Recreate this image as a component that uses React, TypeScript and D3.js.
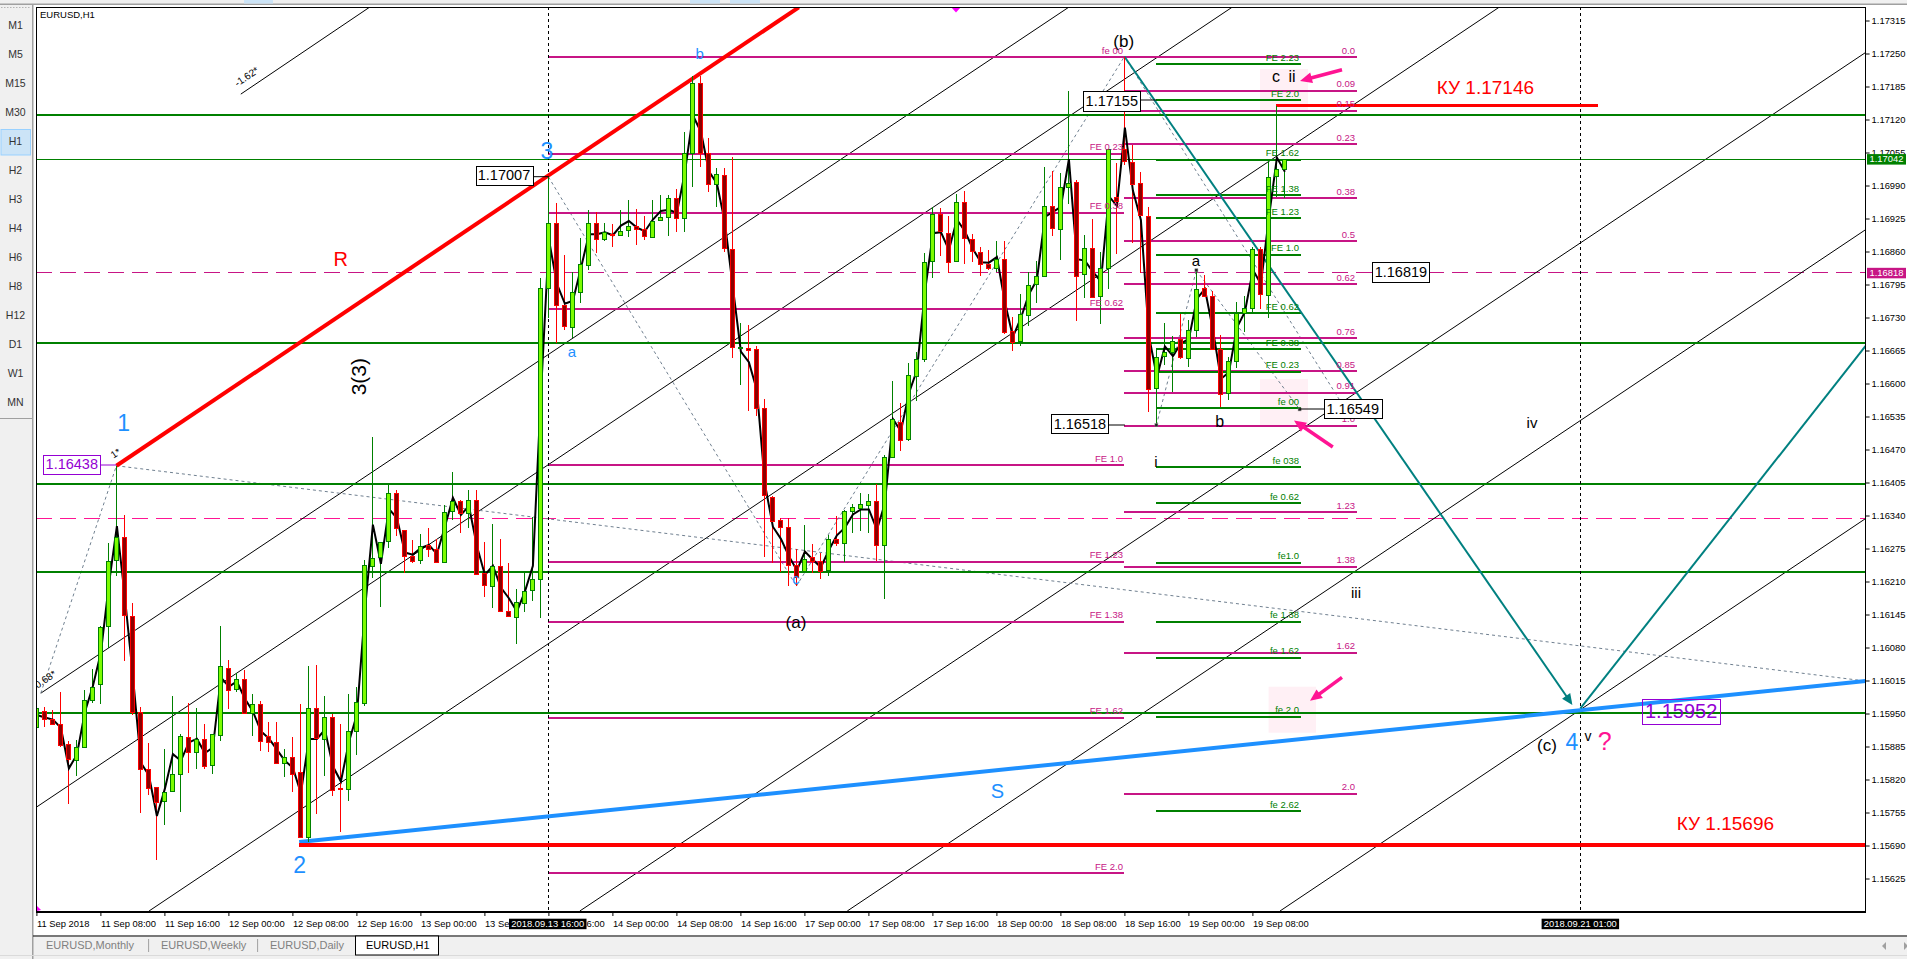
import React, { useEffect, useRef } from 'react';
import * as d3 from 'd3';

const WIDTH = 1907;
const HEIGHT = 959;

const opens = [
  1.15923,1.15955,1.15940,1.15930,1.15889,1.15859,1.15885,1.15977,1.16007,1.16122,
  1.16252,1.16297,1.16143,1.15953,1.15841,1.15805,1.15777,1.15797,1.15831,1.15904,
  1.15874,1.15900,1.15848,1.15908,1.16040,1.15997,1.16017,1.15951,1.15969,1.15905,
  1.15894,1.15852,1.15864,1.15835,1.15706,1.15961,1.15900,1.15944,1.15804,1.15802,
  1.15916,1.15971,1.16241,1.16257,1.16289,1.16384,1.16312,1.16261,1.16253,1.16281,
  1.16275,1.16249,1.16348,1.16369,1.16346,1.16371,1.16226,1.16202,1.16240,1.16152,
  1.16139,1.16169,1.16192,1.16214,1.16788,1.16916,1.16754,1.16712,1.16780,1.16835,
  1.16917,1.16885,1.16895,1.16892,1.16902,1.16910,1.16904,1.16890,1.16922,1.16928,
  1.16965,1.16926,1.17054,1.17192,1.17055,1.16993,1.17011,1.16865,1.16669,1.16669,
  1.16668,1.16551,1.16376,1.16331,1.16317,1.16243,1.16231,1.16258,1.16250,1.16231,
  1.16293,1.16285,1.16348,1.16356,1.16362,1.16369,1.16283,1.16456,1.16525,1.16490,
  1.16616,1.16649,1.16840,1.16933,1.16897,1.16840,1.16957,1.16884,1.16860,1.16836,
  1.16828,1.16846,1.16703,1.16682,1.16736,1.16795,1.16811,1.16949,1.16905,1.16988,
  1.16996,1.16815,1.16866,1.16771,1.16827,1.16968,1.17061,1.17037,1.16994,1.16930,
  1.16592,1.16655,1.16662,1.16687,1.16651,1.16706,1.16788,1.16773,1.16668,1.16582,
  1.16645,1.16739,1.16748,1.16864,1.16775,1.17009,1.17022,
];
const closes = [
  1.15960,1.15940,1.15930,1.15889,1.15859,1.15884,1.15977,1.16002,1.16120,1.16251,
  1.16297,1.16143,1.15954,1.15841,1.15804,1.15776,1.15795,1.15831,1.15905,1.15874,
  1.15900,1.15847,1.15910,1.16044,1.15997,1.16017,1.15951,1.15969,1.15896,1.15894,
  1.15852,1.15864,1.15831,1.15706,1.15961,1.15902,1.15944,1.15800,1.15802,1.15916,
  1.15973,1.16242,1.16257,1.16287,1.16384,1.16316,1.16261,1.16251,1.16280,1.16273,
  1.16250,1.16347,1.16368,1.16346,1.16371,1.16226,1.16202,1.16241,1.16151,1.16143,
  1.16169,1.16192,1.16214,1.16788,1.16916,1.16754,1.16712,1.16780,1.16835,1.16917,
  1.16885,1.16898,1.16893,1.16900,1.16910,1.16904,1.16890,1.16921,1.16928,1.16965,
  1.16926,1.17054,1.17192,1.17055,1.16993,1.17012,1.16867,1.16671,1.16671,1.16666,
  1.16551,1.16379,1.16328,1.16317,1.16243,1.16220,1.16254,1.16250,1.16231,1.16293,
  1.16285,1.16348,1.16356,1.16363,1.16369,1.16283,1.16456,1.16530,1.16490,1.16616,
  1.16649,1.16840,1.16933,1.16899,1.16840,1.16957,1.16886,1.16861,1.16836,1.16828,
  1.16846,1.16702,1.16682,1.16736,1.16795,1.16811,1.16949,1.16905,1.16987,1.16995,
  1.16810,1.16866,1.16769,1.16827,1.17061,1.16961,1.17038,1.16994,1.16930,1.16590,
  1.16653,1.16662,1.16684,1.16651,1.16706,1.16787,1.16772,1.16669,1.16580,1.16645,
  1.16739,1.16748,1.16864,1.16775,1.17007,1.17022,1.17042,
];
const highs = [
  1.15960,1.15963,1.15956,1.15992,1.15895,1.15898,1.15996,1.16038,1.16122,1.16285,
  1.16438,1.16341,1.16168,1.15963,1.15891,1.15806,1.15881,1.15984,1.15909,1.15971,
  1.15960,1.15930,1.15910,1.16122,1.16055,1.16029,1.16035,1.15988,1.15974,1.15934,
  1.15934,1.15881,1.15904,1.15969,1.16043,1.16045,1.15984,1.15950,1.15929,1.15988,
  1.16002,1.16252,1.16494,1.16288,1.16400,1.16390,1.16312,1.16291,1.16303,1.16316,
  1.16294,1.16360,1.16425,1.16370,1.16390,1.16390,1.16288,1.16323,1.16293,1.16246,
  1.16196,1.16229,1.16338,1.16808,1.17007,1.16955,1.16854,1.16819,1.16887,1.16942,
  1.16938,1.16916,1.16915,1.16942,1.16962,1.16944,1.16929,1.16962,1.16972,1.16972,
  1.16983,1.17096,1.17206,1.17206,1.17083,1.17024,1.17024,1.17046,1.16720,1.16715,
  1.16673,1.16569,1.16379,1.16335,1.16335,1.16275,1.16321,1.16284,1.16267,1.16302,
  1.16339,1.16351,1.16363,1.16384,1.16382,1.16402,1.16460,1.16605,1.16561,1.16641,
  1.16662,1.16858,1.16947,1.16945,1.16930,1.16973,1.16979,1.16895,1.16868,1.16863,
  1.16880,1.16880,1.16731,1.16777,1.16820,1.16842,1.17026,1.17018,1.17014,1.17177,
  1.17001,1.16892,1.16924,1.16860,1.17061,1.17034,1.17244,1.17070,1.17017,1.16948,
  1.16669,1.16720,1.16693,1.16737,1.16725,1.16823,1.16814,1.16783,1.16695,1.16653,
  1.16761,1.16772,1.16868,1.16868,1.17043,1.17146,1.17043,
];
const lows = [
  1.15920,1.15923,1.15927,1.15884,1.15772,1.15826,1.15885,1.15971,1.15969,1.16079,
  1.16221,1.16053,1.15948,1.15754,1.15789,1.15661,1.15730,1.15795,1.15756,1.15833,
  1.15841,1.15840,1.15830,1.15896,1.15958,1.15992,1.15950,1.15906,1.15876,1.15874,
  1.15851,1.15825,1.15795,1.15704,1.15696,1.15752,1.15826,1.15787,1.15716,1.15777,
  1.15869,1.15964,1.16216,1.16160,1.16276,1.16299,1.16227,1.16247,1.16244,1.16258,
  1.16248,1.16247,1.16332,1.16306,1.16316,1.16223,1.16180,1.16158,1.16150,1.16142,
  1.16087,1.16149,1.16172,1.16139,1.16729,1.16680,1.16706,1.16689,1.16758,1.16824,
  1.16858,1.16880,1.16868,1.16890,1.16888,1.16873,1.16882,1.16886,1.16921,1.16890,
  1.16899,1.16899,1.16987,1.17027,1.16978,1.16947,1.16859,1.16650,1.16597,1.16545,
  1.16536,1.16259,1.16247,1.16229,1.16201,1.16201,1.16231,1.16226,1.16215,1.16221,
  1.16280,1.16249,1.16306,1.16310,1.16306,1.16250,1.16175,1.16455,1.16468,1.16486,
  1.16566,1.16643,1.16808,1.16851,1.16818,1.16840,1.16835,1.16840,1.16812,1.16823,
  1.16820,1.16698,1.16664,1.16673,1.16713,1.16759,1.16810,1.16890,1.16843,1.16953,
  1.16724,1.16769,1.16768,1.16717,1.16786,1.16855,1.17030,1.16876,1.16818,1.16544,
  1.16518,1.16636,1.16584,1.16649,1.16633,1.16692,1.16771,1.16667,1.16553,1.16568,
  1.16630,1.16702,1.16741,1.16746,1.16730,1.16968,1.16965,
];
// thin black line over the candles
const lineValues = [
  1.15947,1.15942,1.15938,1.15922,1.15842,1.15869,1.15953,1.16004,1.16070,1.16205,
  1.16319,1.16179,1.16023,1.15853,1.15828,1.15748,1.15802,1.15870,1.15857,1.15893,
  1.15900,1.15872,1.15883,1.16021,1.16003,1.16013,1.15979,1.15954,1.15915,1.15901,
  1.15879,1.15857,1.15843,1.15793,1.15900,1.15900,1.15918,1.15846,1.15816,1.15894,
  1.15948,1.16153,1.16322,1.16245,1.16353,1.16335,1.16267,1.16263,1.16276,1.16282,
  1.16264,1.16318,1.16375,1.16341,1.16359,1.16280,1.16223,1.16241,1.16198,1.16177,
  1.16151,1.16190,1.16241,1.16578,1.16884,1.16796,1.16757,1.16763,1.16827,1.16894,
  1.16894,1.16898,1.16892,1.16911,1.16920,1.16907,1.16900,1.16923,1.16940,1.16942,
  1.16936,1.17016,1.17128,1.17096,1.17018,1.16994,1.16917,1.16789,1.16663,1.16642,
  1.16587,1.16402,1.16318,1.16294,1.16260,1.16232,1.16269,1.16253,1.16238,1.16272,
  1.16301,1.16316,1.16342,1.16352,1.16352,1.16312,1.16364,1.16530,1.16506,1.16581,
  1.16626,1.16780,1.16896,1.16898,1.16863,1.16923,1.16900,1.16865,1.16839,1.16838,
  1.16849,1.16760,1.16692,1.16729,1.16776,1.16804,1.16928,1.16938,1.16948,1.17042,
  1.16845,1.16842,1.16820,1.16801,1.16969,1.16950,1.17104,1.16980,1.16922,1.16694,
  1.16613,1.16673,1.16654,1.16679,1.16688,1.16767,1.16786,1.16706,1.16609,1.16622,
  1.16710,1.16741,1.16824,1.16796,1.16927,1.17045,1.17017,
];

const priceTicks = [
  1.17315,1.1725,1.17185,1.1712,1.17055,1.1699,1.16925,1.1686,1.16795,1.1673,1.16665,1.166,1.16535,1.1647,
  1.16405,1.1634,1.16275,1.1621,1.16145,1.1608,1.16015,1.1595,1.15885,1.1582,1.15755,1.1569,1.15625,
];
const timeBars = [0,8,16,24,32,40,48,56,64,72,80,88,96,104,112,120,128,136,144,152];
const timeLabels = [
  '11 Sep 2018','11 Sep 08:00','11 Sep 16:00','12 Sep 00:00','12 Sep 08:00','12 Sep 16:00','13 Sep 00:00',
  '13 Sep 08:00','13 Sep 16:00','14 Sep 00:00','14 Sep 08:00','14 Sep 16:00','17 Sep 00:00','17 Sep 08:00',
  '17 Sep 16:00','18 Sep 00:00','18 Sep 08:00','18 Sep 16:00','19 Sep 00:00','19 Sep 08:00',
];

const thickLevels = [1.17129, 1.1668, 1.16403, 1.16229, 1.15951];
const bidLevel = 1.17042;
const dashLevelA = 1.16818;
const dashLevelB = 1.16334;

// fibo levels: wave (a)-(c) expansion, retracement, small expansion
const feLabels = ['fe 00','FE 0.23','FE 0.38','FE 0.62','FE 1.0','FE 1.23','FE 1.38','FE 1.62','FE 2.0'];
const feLevels = [1.17244,1.17054,1.16937,1.16747,1.1644,1.1625,1.16132,1.15943,1.15636];
const retLabels = ['0.0','0.09','0.15','0.23','0.38','0.5','0.62','0.76','0.85','0.91','1.0','1.23','1.38','1.62','2.0'];
const retLevels = [1.17244,1.17178,1.17138,1.17072,1.16966,1.16881,1.16796,1.1669,1.16625,1.16583,1.16518,1.16347,1.1624,1.16071,1.15793];
const smallLabels = ['FE 2.23','FE 2.0','FE 1.62','FE 1.38','FE 1.23','FE 1.0','FE 0.62','FE 0.38','FE 0.23','fe 00','fe 038','fe 0.62','fe1.0','fe 1.38','fe 1.62','fe 2.0','fe 2.62'];
const smallLevels = [1.1723,1.17159,1.17042,1.16972,1.16926,1.16855,1.16739,1.16668,1.16624,1.16552,1.16436,1.16365,1.16248,1.16132,1.16061,1.15945,1.15758];

// [bar, price, bar, price]
const channelLines = [
  [25.55,1.1717,41.63,1.17341],
  [0.55,1.1599,129.03,1.17341],
  [0.04,1.15766,149.45,1.17341],
  [14.08,1.15561,182.83,1.17341],
  [67.93,1.15561,228.65,1.17252],
  [101.36,1.15561,228.65,1.16903],
  [155.45,1.15561,228.65,1.16334],
];
const dottedLines = [
  [0.55,1.1599,10,1.16438],
  [10,1.16438,228.65,1.16014],
  [64,1.17007,95,1.16201],
  [95,1.16201,136,1.17244],
  [136,1.17244,163.6,1.1655],
  [145,1.16823,157.9,1.16549],
  [140,1.16518,145,1.16823],
];
const pinkArrows = [
  [163.2,1.17218,157.95,1.17196],
  [162.05,1.16475,157.2,1.16527],
  [163.2,1.16021,159.2,1.15975],
];

const BLUE = '#1e90ff';
const MAGENTA = '#c71585';
const GREEN = '#008000';
const TEAL = '#008080';
const VIOLET = '#9400d3';
const PINK = '#ff1493';
const FONT = '"Liberation Sans", Arial, sans-serif';

const App: React.FC = () => {
  const svgRef = useRef<SVGSVGElement>(null);

  useEffect(() => {
    if (!svgRef.current) return;
    const svg = d3.select(svgRef.current);
    svg.selectAll('*').remove();

    const left = 36.4;
    const right = 1865.6;
    const top = 7.3;
    const bottom = 911;
    const x = d3.scaleLinear().domain([0, 228.65]).range([left, right]);
    const y = d3.scaleLinear().domain([1.15561, 1.17341]).range([bottom, top]);

    const px = (v: number) => Math.floor(x(v)) + 0.5;
    const py = (v: number) => Math.floor(y(v)) + 0.5;

    // window chrome
    svg.append('rect').attr('width', WIDTH).attr('height', HEIGHT).attr('fill', '#f0f0f0');
    svg.append('rect').attr('x', 33).attr('y', 4).attr('width', WIDTH - 33).attr('height', 931).attr('fill', '#fff');
    svg.append('rect').attr('x', 32).attr('y', 4).attr('width', 1.5).attr('height', HEIGHT).attr('fill', '#a0a0a0');
    svg.append('rect').attr('y', 3.5).attr('width', WIDTH).attr('height', 1.5).attr('fill', '#a0a0a0');
    [[244, 29], [690, 30], [730, 30]].forEach(([bx, bw]) => {
      svg.append('rect').attr('x', bx).attr('y', 0).attr('width', bw).attr('height', 3.5).attr('fill', '#cce4f7');
    });
    svg.append('line').attr('x1', 1).attr('x2', 30).attr('y1', 7.5).attr('y2', 7.5)
      .attr('stroke', '#b5b5b5').attr('stroke-dasharray', '1.5,1.5');

    const periods = ['M1','M5','M15','M30','H1','H2','H3','H4','H6','H8','H12','D1','W1','MN'];
    svg.append('rect').attr('x', 1).attr('y', 129.5).attr('width', 29.5).attr('height', 25.5)
      .attr('fill', '#cce4f7').attr('stroke', '#99d1ff');
    periods.forEach((p, i) => {
      svg.append('text').attr('x', 15.5).attr('y', 26 + i * 29 + (i > 3 ? 0.5 : 0)).attr('text-anchor', 'middle')
        .attr('dominant-baseline', 'middle').attr('font-family', FONT).attr('font-size', 10.5).attr('fill', '#333').text(p);
    });
    svg.append('rect').attr('x', 0).attr('y', 418).attr('width', 32).attr('height', 1).attr('fill', '#a0a0a0');

    // tabs
    svg.append('rect').attr('x', 33).attr('y', 935.5).attr('width', WIDTH).attr('height', 1).attr('fill', '#000');
    svg.append('rect').attr('y', 955).attr('width', WIDTH).attr('height', 1).attr('fill', '#dadada');
    svg.append('rect').attr('x', 355.5).attr('y', 936).attr('width', 83).attr('height', 19).attr('fill', '#fff').attr('stroke', '#000');
    [148.6, 257.6].forEach(d => {
      svg.append('line').attr('x1', d).attr('x2', d).attr('y1', 939).attr('y2', 952).attr('stroke', '#a0a0a0');
    });
    [['EURUSD,Monthly', 46, '#808080'], ['EURUSD,Weekly', 161, '#808080'], ['EURUSD,Daily', 270, '#808080'], ['EURUSD,H1', 366, '#000']]
      .forEach(([t, tx, c]) => {
        svg.append('text').attr('x', tx as number).attr('y', 946.5).attr('dominant-baseline', 'middle')
          .attr('font-family', FONT).attr('font-size', 11).attr('fill', c as string).text(t as string);
      });
    svg.append('path').attr('d', 'M1886 942 L1882 946 L1886 950 Z').attr('fill', '#a0a0a0');
    svg.append('path').attr('d', 'M1904 942 L1908 946 L1904 950 Z').attr('fill', '#a0a0a0');

    // plot area
    svg.append('defs').append('clipPath').attr('id', 'plot')
      .append('rect').attr('x', left).attr('y', top).attr('width', right - left).attr('height', bottom - top);
    const plot = svg.append('g').attr('clip-path', 'url(#plot)');

    // highlight boxes behind the fibo labels
    [[1260, 69, 48, 42], [1260, 379, 48, 46], [1268.6, 686.7, 47.4, 46]].forEach(([rx, ry, rw, rh]) => {
      plot.append('rect').attr('x', rx).attr('y', ry).attr('width', rw).attr('height', rh).attr('fill', '#fff0f5');
    });

    const hline = (g: any, price: number, b0: number, b1: number, color: string, width: number, dash?: string) => {
      const l = g.append('line').attr('x1', x(b0)).attr('x2', x(b1)).attr('y1', py(price)).attr('y2', py(price))
        .attr('stroke', color).attr('stroke-width', width).attr('shape-rendering', 'crispEdges');
      if (dash) l.attr('stroke-dasharray', dash);
    };

    hline(plot, dashLevelA, 0, 228.65, MAGENTA, 1, '16,8');
    hline(plot, dashLevelB, 0, 228.65, PINK, 1, '16,8');

    channelLines.forEach(([b0, p0, b1, p1]) => {
      plot.append('line').attr('x1', x(b0)).attr('y1', y(p0)).attr('x2', x(b1)).attr('y2', y(p1))
        .attr('stroke', '#000').attr('stroke-width', 1);
    });
    dottedLines.forEach(([b0, p0, b1, p1]) => {
      plot.append('line').attr('x1', x(b0)).attr('y1', y(p0)).attr('x2', x(b1)).attr('y2', y(p1))
        .attr('stroke', '#708090').attr('stroke-width', 1).attr('stroke-dasharray', '3,3');
    });

    feLevels.forEach(lv => hline(plot, lv, 64, 136, MAGENTA, 2));
    retLevels.forEach(lv => hline(plot, lv, 136, 165.05, MAGENTA, 2));
    smallLevels.forEach(lv => hline(plot, lv, 140, 158.05, GREEN, 2));

    thickLevels.forEach(lv => hline(plot, lv, 0, 228.65, GREEN, 2));
    hline(plot, bidLevel, 0, 228.65, GREEN, 1);

    // vertical dashed markers
    [64, 193].forEach(b => {
      plot.append('line').attr('x1', px(b)).attr('x2', px(b)).attr('y1', top).attr('y2', bottom)
        .attr('stroke', '#000').attr('stroke-dasharray', '3,3').attr('shape-rendering', 'crispEdges');
    });

    // trend lines
    plot.append('line').attr('x1', x(10)).attr('y1', y(1.16438)).attr('x2', x(95.3)).attr('y2', y(1.17341))
      .attr('stroke', '#ff0000').attr('stroke-width', 4);
    plot.append('line').attr('x1', x(32.85)).attr('y1', y(1.15697)).attr('x2', x(228.65)).attr('y2', y(1.16014))
      .attr('stroke', BLUE).attr('stroke-width', 4);
    hline(plot, 1.15691, 32.85, 228.65, '#ff0000', 4);
    hline(plot, 1.17147, 155, 195.2, '#ff0000', 3);

    // projection with arrowhead
    const arrow = (b0: number, p0: number, b1: number, p1: number, color: string, width: number, head: number) => {
      const x0 = x(b0), y0 = y(p0), x1 = x(b1), y1 = y(p1);
      const a = Math.atan2(y1 - y0, x1 - x0);
      plot.append('line').attr('x1', x0).attr('y1', y0).attr('x2', x1 - Math.cos(a) * head * 0.7).attr('y2', y1 - Math.sin(a) * head * 0.7)
        .attr('stroke', color).attr('stroke-width', width);
      const pts = [
        [x1, y1],
        [x1 - Math.cos(a) * head + Math.sin(a) * head * 0.45, y1 - Math.sin(a) * head - Math.cos(a) * head * 0.45],
        [x1 - Math.cos(a) * head - Math.sin(a) * head * 0.45, y1 - Math.sin(a) * head + Math.cos(a) * head * 0.45],
      ];
      plot.append('polygon').attr('points', pts.map(p => p.join(',')).join(' ')).attr('fill', color);
    };
    arrow(136, 1.17244, 192, 1.15967, TEAL, 2, 11);
    plot.append('line').attr('x1', x(193)).attr('y1', y(1.1596)).attr('x2', x(228.65)).attr('y2', y(1.16674))
      .attr('stroke', TEAL).attr('stroke-width', 2);
    pinkArrows.forEach(([b0, p0, b1, p1]) => arrow(b0, p0, b1, p1, PINK, 3.5, 12));

    // candles: wicks, then the line, then bodies
    const bars = d3.range(opens.length);
    const isUp = (i: number) => closes[i] >= opens[i];
    plot.append('g').selectAll('line').data(bars).join('line')
      .attr('x1', d => px(d)).attr('x2', d => px(d))
      .attr('y1', d => y(highs[d])).attr('y2', d => y(lows[d]))
      .attr('stroke', d => (isUp(d) ? GREEN : '#ff0000'))
      .attr('shape-rendering', 'crispEdges');

    const linePath = d3.line<number>().x((d, i) => x(i) + 0.5).y(d => y(d));
    plot.append('path').attr('d', linePath(lineValues)).attr('fill', 'none').attr('stroke', '#000').attr('stroke-width', 2);

    plot.append('g').selectAll('rect').data(bars).join('rect')
      .attr('x', d => px(d) - 2)
      .attr('width', 4)
      .attr('y', d => Math.round(y(Math.max(opens[d], closes[d]))) + 0.5)
      .attr('height', d => Math.max(1, Math.round(Math.abs(y(opens[d]) - y(closes[d])))))
      .attr('fill', d => (isUp(d) ? '#7cfc00' : '#8b0000'))
      .attr('stroke', d => (isUp(d) ? GREEN : '#ff0000'))
      .attr('shape-rendering', 'crispEdges');

    // small square nodes
    [[140, 1.16518], [145, 1.16823], [157.9, 1.16549]].forEach(([b, p]) => {
      plot.append('rect').attr('x', x(b) - 1.5).attr('y', y(p) - 1.5).attr('width', 3).attr('height', 3)
        .attr('fill', '#222').attr('stroke', '#888').attr('stroke-width', 0.5);
    });

    // fibo labels
    const fiboText = (labels: string[], levels: number[], tx: number, color: string) => {
      labels.forEach((t, i) => {
        plot.append('text').attr('x', tx).attr('y', y(levels[i]) - 3).attr('text-anchor', 'end')
          .attr('font-family', FONT).attr('font-size', 9.5).attr('fill', color).text(t);
      });
    };
    fiboText(feLabels, feLevels, 1123, MAGENTA);
    fiboText(retLabels, retLevels, 1355, MAGENTA);
    fiboText(smallLabels, smallLevels, 1299, GREEN);

    // wave labels
    const label = (t: string, lx: number, ly: number, size: number, color: string) => {
      plot.append('text').attr('x', lx).attr('y', ly).attr('text-anchor', 'middle').attr('dominant-baseline', 'middle')
        .attr('font-family', FONT).attr('font-size', size).attr('fill', color).text(t);
    };
    label('1', 123.7, 425, 23, BLUE);
    label('2', 299.6, 866.7, 23, BLUE);
    label('3', 547, 152.7, 23, BLUE);
    label('4', 1572, 744, 23, BLUE);
    label('a', 572, 353, 15, BLUE);
    label('b', 699.6, 55, 15, BLUE);
    label('c', 796, 580, 15, BLUE);
    label('S', 997.5, 793, 20, BLUE);
    label('R', 340.8, 260.7, 20, '#ff0000');
    label('(b)', 1123.7, 42.7, 17, '#000');
    label('(a)', 796, 624, 17, '#000');
    label('(c)', 1547, 746.7, 17, '#000');
    label('a', 1196, 262, 15, '#000');
    label('b', 1219.6, 423, 16, '#000');
    label('c', 1276, 78, 16, '#000');
    label('ii', 1292, 78, 16, '#000');
    label('i', 1156, 462.7, 15, '#000');
    label('iii', 1356, 594, 15, '#000');
    label('iv', 1532, 424, 15, '#000');
    label('v', 1588, 737, 14, '#000');
    label('?', 1604.8, 743, 25, PINK);
    label('КУ 1.17146', 1485.4, 89, 19, '#ff0000');
    label('КУ 1.15696', 1725.4, 825, 19, '#ff0000');

    const rotated = (t: string, lx: number, ly: number, size: number, angle: number) => {
      plot.append('text').attr('transform', `translate(${lx},${ly}) rotate(${angle})`).attr('text-anchor', 'middle')
        .attr('dominant-baseline', 'middle').attr('font-family', FONT).attr('font-size', size).attr('fill', '#000').text(t);
    };
    rotated('3(3)', 360, 376.7, 21, -90);
    rotated('-1.62*', 247, 77.3, 10, -34);
    rotated('1*', 116, 454, 10, -34);
    rotated('0.68*', 45.7, 680, 10, -34);

    plot.append('text').attr('x', 40).attr('y', 17.5).attr('font-family', FONT).attr('font-size', 9.5).attr('fill', '#000').text('EURUSD,H1');

    // price boxes, some with a stem to their level
    const box = (t: string, bx: number, by: number, bw: number, bh: number, color: string, size: number, stem?: [number, number, number]) => {
      if (stem) {
        plot.append('line').attr('x1', stem[0]).attr('x2', stem[1]).attr('y1', stem[2]).attr('y2', stem[2]).attr('stroke', color);
      }
      plot.append('rect').attr('x', bx + 0.5).attr('y', by + 0.5).attr('width', bw).attr('height', bh)
        .attr('fill', size > 16 ? 'none' : '#fff').attr('stroke', color).attr('shape-rendering', 'crispEdges');
      plot.append('text').attr('x', bx + bw / 2).attr('y', by + bh / 2 + 1).attr('text-anchor', 'middle').attr('dominant-baseline', 'middle')
        .attr('font-family', FONT).attr('font-size', size).attr('fill', color).text(t);
    };
    box('1.17007', 475.5, 166, 57, 19, '#000', 14.5, [532, 549, 176.7]);
    box('1.16438', 43.3, 455, 57, 19, VIOLET, 14.5, [100, 116.3, 465]);
    box('1.17155', 1083.3, 91, 57, 19.5, '#000', 14.5, [1140, 1156.3, 100]);
    box('1.16518', 1051.4, 414.3, 57, 19, '#000', 14.5, [1108, 1124.9, 425]);
    box('1.16819', 1372.4, 262.3, 57, 19.5, '#000', 14.5);
    box('1.16549', 1324, 399.3, 57.5, 19, '#000', 14.5, [1300, 1324, 409]);
    box('1.15952', 1642.4, 699.3, 77.5, 25, VIOLET, 20);

    // little markers on the frame
    plot.append('path').attr('d', 'M951 7 L961 7 L956 12.5 Z').attr('fill', '#ff00ff');
    plot.append('path').attr('d', 'M37 911 L37 906 L41 910 Z').attr('fill', '#ff00ff');

    // axes
    const yAxis = svg.append('g').attr('transform', `translate(${right},0)`)
      .call(d3.axisRight(y).tickValues(priceTicks).tickSize(4).tickPadding(2).tickFormat(d3.format('.5f') as any));
    yAxis.select('.domain').remove();
    yAxis.selectAll('text').attr('font-family', FONT).attr('font-size', 9.4).attr('fill', '#000');
    yAxis.selectAll('line').attr('stroke', '#000');

    const xAxis = svg.append('g').attr('transform', `translate(0,${bottom + 1})`)
      .call(d3.axisBottom(x).tickValues(timeBars).tickSize(4).tickPadding(4).tickFormat((d, i) => timeLabels[i]));
    xAxis.select('.domain').remove();
    xAxis.selectAll('text').attr('text-anchor', 'start').attr('font-family', FONT).attr('font-size', 9.4).attr('fill', '#000');
    xAxis.selectAll('line').attr('stroke', '#000');

    // frame
    svg.append('rect').attr('x', left).attr('y', top - 0.3).attr('width', right - left).attr('height', bottom - top + 0.3)
      .attr('fill', 'none').attr('stroke', '#000').attr('shape-rendering', 'crispEdges');
    svg.append('line').attr('x1', left).attr('x2', right).attr('y1', bottom + 1.5).attr('y2', bottom + 1.5)
      .attr('stroke', '#000').attr('shape-rendering', 'crispEdges');

    // flags on the axes
    const flag = (t: string, fx: number, fy: number, fw: number, fh: number, fill: string) => {
      svg.append('rect').attr('x', fx).attr('y', fy).attr('width', fw).attr('height', fh).attr('fill', fill);
      svg.append('text').attr('x', fx + fw / 2).attr('y', fy + fh / 2 + 0.5).attr('text-anchor', 'middle').attr('dominant-baseline', 'middle')
        .attr('font-family', FONT).attr('font-size', 9.4).attr('fill', '#fff').text(t);
    };
    flag('1.17042', 1867, y(bidLevel) - 5, 39, 10.5, GREEN);
    flag('1.16818', 1867, y(dashLevelA) - 5, 39, 10.5, MAGENTA);
    flag('2018.09.13 16:00', 509, 918.7, 77.5, 10.5, '#000');
    flag('2018.09.21 01:00', 1541.6, 918.7, 77.5, 10.5, '#000');
  }, []);

  return (
    <svg
      ref={svgRef}
      width={WIDTH}
      height={HEIGHT}
      viewBox={`0 0 ${WIDTH} ${HEIGHT}`}
      style={{ position: 'absolute', left: 0, top: 0, display: 'block' }}
    />
  );
};

export default App;
